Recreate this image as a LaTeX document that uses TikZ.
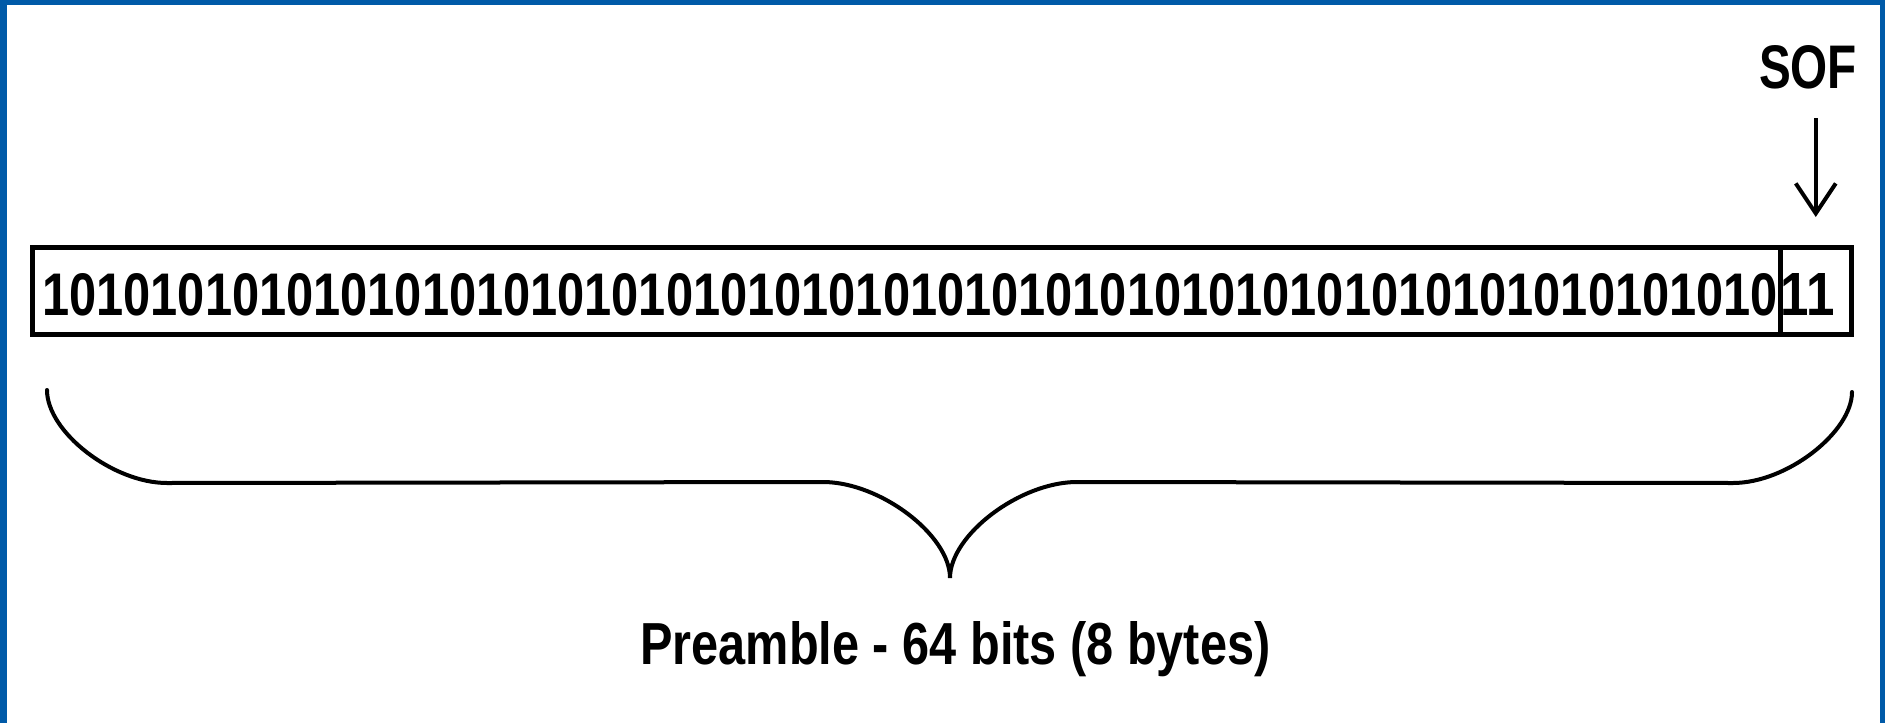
\documentclass[tikz,border=0pt]{standalone}
\usepackage{fontspec}
\setmainfont{Liberation Sans}
\usepackage{graphicx}
\usetikzlibrary{arrows.meta}
\definecolor{bord}{RGB}{0,90,168}
\tikzset{
  cell/.style={draw=black, line width=2.5pt, rectangle, inner sep=0pt, minimum height=43.5pt},
  lbl/.style={inner sep=0pt, font=\bfseries},
  arr/.style={draw=black, line width=2pt, -{Straight Barb[length=15pt,width=20pt]}},
  bracestyle/.style={draw=black, line width=2pt, line cap=round}
}
\begin{document}
\begin{tikzpicture}[x=0.5pt, y=-0.5pt]
\useasboundingbox (0,0) rectangle (1885,723);
\fill[white] (0,0) rectangle (1885,723);
% blue frame
\fill[bord] (0,0) rectangle (7,723);
\fill[bord] (0,0) rectangle (1885,5);
\fill[bord] (1880,0) rectangle (1885,723);
% cells
\node[cell, minimum width=874pt] (pre) at (906.5,291) {};
\node[cell, minimum width=35.25pt] (sof) at (1815.75,291) {};
% cell texts
\node[lbl, anchor=base west] (pretext) at (42,315)
  {\resizebox{868pt}{21pt}{1010101010101010101010101010101010101010101010101010101010101010}};
\node[lbl, anchor=base west] (softext) at (1780,315) {\resizebox{27pt}{21pt}{11}};
% SOF label and arrow
\node[lbl, anchor=base] (sofl) at (1808,88) {\resizebox{49pt}{21.5pt}{SOF}};
\draw[arr, shorten <=14.5pt, shorten >=14pt] (sofl.south -| sof.north) -- (sof.north);
% brace
\draw[bracestyle] (47,390) .. controls (47,432) and (113,483) .. (167,483)
  -- (823,482) .. controls (880,482) and (950,535) .. (950,578)
  .. controls (950,535) and (1020,482) .. (1077,482)
  -- (1733,483) .. controls (1787,483) and (1852,432) .. (1852,392);
% bottom label
\node[lbl, anchor=base] (plbl) at (955.5,664) {\resizebox{315pt}{21.5pt}{Preamble - 64 bits (8 bytes)}};
\end{tikzpicture}
\end{document}
